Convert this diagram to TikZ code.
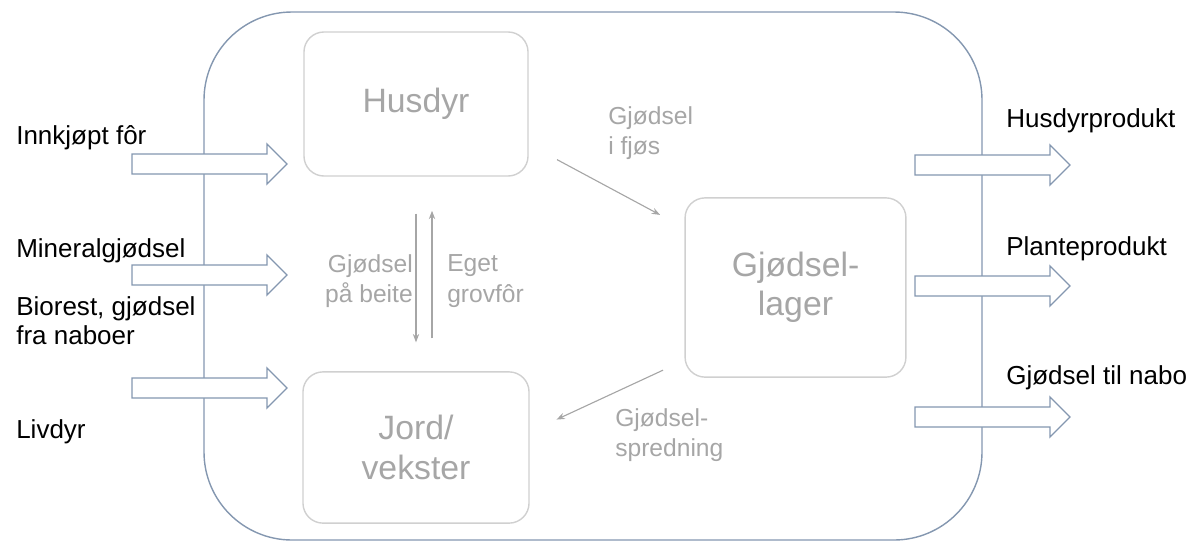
\documentclass[tikz,border=0pt]{standalone}
\usepackage{fontspec}
\setmainfont{Liberation Sans}
\usetikzlibrary{arrows.meta}
\definecolor{slate}{HTML}{8497B0}
\definecolor{softgray}{HTML}{A6A6A6}
\definecolor{boxgray}{HTML}{D0D0D0}
\tikzset{
  pool/.style={draw=boxgray, line width=1pt, rounded corners=0.5cm, text=softgray,
    font=\fontsize{24}{28}\selectfont, align=center, inner sep=0pt},
  flow/.style={draw=softgray, line width=0.8pt, -{Stealth[length=6pt,width=4.5pt]}},
  flowtext/.style={text=softgray, font=\fontsize{17.5}{21.5}\selectfont, inner sep=0pt},
  extlabel/.style={font=\fontsize{18.5}{20.6}\selectfont, inner sep=0pt, anchor=base west},
  blockarrow/.pic={\draw[slate, fill=white, line width=0.9pt]
    (0,-10) -- (135,-10) -- (135,-20) -- (155,0) -- (135,20) -- (135,10) -- (0,10) -- cycle;}
}
\begin{document}
\begin{tikzpicture}[x=0.025cm, y=-0.025cm]
  \useasboundingbox (0,0) rectangle (1195,542);
  % farm boundary
  \draw[slate, line width=1pt, rounded corners=2.2cm] (204,12) rectangle (982,540);

  % in and out
  \pic at (132,164) {blockarrow};
  \pic at (132,275) {blockarrow};
  \pic at (132,388) {blockarrow};
  \pic at (915,165) {blockarrow};
  \pic at (915,286) {blockarrow};
  \pic at (915,417) {blockarrow};

  \node[extlabel] (innkjopt) at (16,144) {Innkjøpt fôr};
  \node[extlabel] (mineral) at (16,257) {Mineralgjødsel};
  \node[extlabel, anchor=north west, align=left] (biorest) at (16,296) {Biorest, gjødsel\\fra naboer};
  \node[extlabel] (livdyr) at (16,438) {Livdyr};
  \node[extlabel] (husdyrprod) at (1006,127) {Husdyrprodukt};
  \node[extlabel] (planteprod) at (1006,255) {Planteprodukt};
  \node[extlabel] (tilnabo) at (1006,384) {Gjødsel til nabo};

  % pools
  \node[pool, minimum width=5.6cm, minimum height=3.6cm] (husdyr) at (416,104) {Husdyr};
  \node[pool, minimum width=5.65cm, minimum height=3.78cm] (jord) at (416,447.5) {Jord/\\vekster};
  \node[pool, minimum width=5.52cm, minimum height=4.48cm] (lager) at (795.5,287.5) {Gjødsel-\\lager};

  % internal flows
  \draw[flow, shorten <=4cm, shorten >=3.84cm] ([yshift=0.5cm]husdyr.center) -- (lager.center);
  \draw[flow, shorten <=3.65cm, shorten >=3.87cm] ([yshift=-0.53cm]lager.center) -- ([yshift=-0.93cm]jord.center);
  \draw[flow, shorten <=0.92cm, shorten >=0.72cm] (husdyr.south) -- (jord.north);
  \draw[flow, shorten <=0.82cm, shorten >=0.85cm] ([xshift=0.4cm]jord.north) -- ([xshift=0.4cm]husdyr.south);

  \node[flowtext, align=left, anchor=west] (fjos) at (608,133) {Gjødsel\\i fjøs};
  \node[flowtext, align=right, anchor=east] (beite) at (413,281) {Gjødsel\\på beite};
  \node[flowtext, align=left, anchor=west] (grovfor) at (447,281) {Eget\\grovfôr};
  \node[flowtext, align=left, anchor=west] (spredning) at (615,435) {Gjødsel-\\spredning};
\end{tikzpicture}
\end{document}
